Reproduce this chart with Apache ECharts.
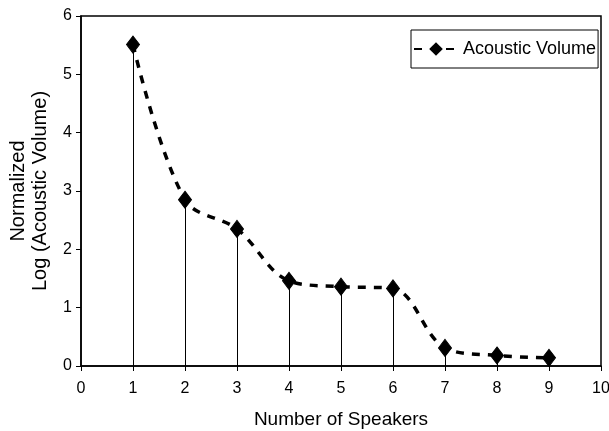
<!DOCTYPE html>
<html><head><meta charset="utf-8">
<script src="https://cdn.jsdelivr.net/npm/echarts@6/dist/echarts.min.js"></script>
<style>html,body{margin:0;padding:0;background:#fff}#c{width:609px;height:431px}</style>
</head><body><div id="c"></div>
<script>
const speakers = [1, 2, 3, 4, 5, 6, 7, 8, 9];
const acousticVolume = [5.51, 2.85, 2.35, 1.46, 1.36, 1.33, 0.31, 0.18, 0.14];
const xTicks = [0, 10, 1];
const yTicks = [0, 6, 1];

const pts = speakers.map((x, i) => [x, acousticVolume[i]]);
const drops = pts.map(p => [{coord: [p[0], p[1]]}, {coord: [p[0], 0]}]);
const font = 'Liberation Sans, Arial, sans-serif';

const chart = echarts.init(document.getElementById('c'), null, {renderer: 'canvas'});
chart.setOption({
  animation: false,
  backgroundColor: '#fff',
  grid: {left: 81, right: 8, top: 16, bottom: 65, containLabel: false, outerBoundsMode: 'none',
         show: true, borderColor: '#000', borderWidth: 1.5},
  legend: {
    left: 411, top: 30, orient: 'horizontal',
    data: ['Acoustic Volume'],
    borderColor: '#000', borderWidth: 1, padding: [10, 2, 10, 2],
    itemWidth: 44, itemHeight: 17, itemGap: 4,
    textStyle: {fontFamily: font, fontSize: 18, color: '#000'}
  },
  xAxis: {
    type: 'value', min: xTicks[0], max: xTicks[1], interval: xTicks[2],
    name: 'Number of Speakers', nameLocation: 'middle', nameGap: 44,
    nameTextStyle: {fontFamily: font, fontSize: 19, color: '#000'},
    axisLine: {onZero: false, lineStyle: {color: '#000', width: 1.5}},
    axisTick: {show: true, inside: false, length: 5, lineStyle: {color: '#000'}},
    axisLabel: {fontFamily: font, fontSize: 16, color: '#000', margin: 15},
    splitLine: {show: false}
  },
  yAxis: {
    type: 'value', min: yTicks[0], max: yTicks[1], interval: yTicks[2],
    name: 'Normalized\nLog (Acoustic Volume)', nameLocation: 'middle', nameGap: 30,
    nameTextStyle: {fontFamily: font, fontSize: 20, color: '#000', lineHeight: 22},
    axisLine: {lineStyle: {color: '#000', width: 1.5}},
    axisTick: {show: true, inside: false, length: 5, lineStyle: {color: '#000'}},
    axisLabel: {fontFamily: font, fontSize: 16, color: '#000', margin: 9},
    splitLine: {show: false}
  },
  series: [{
    name: 'Acoustic Volume',
    type: 'line',
    data: pts,
    smooth: 0.35,
    symbol: 'diamond',
    symbolSize: [13, 17],
    itemStyle: {color: '#000', borderColor: '#000'},
    lineStyle: {color: '#000', width: 3.5, type: [8, 8]},
    z: 3,
    markLine: {
      silent: true, symbol: ['none', 'none'],
      label: {show: false},
      lineStyle: {color: '#000', width: 1, type: 'solid'},
      data: drops,
      z: 1
    }
  }]
});
</script></body></html>
